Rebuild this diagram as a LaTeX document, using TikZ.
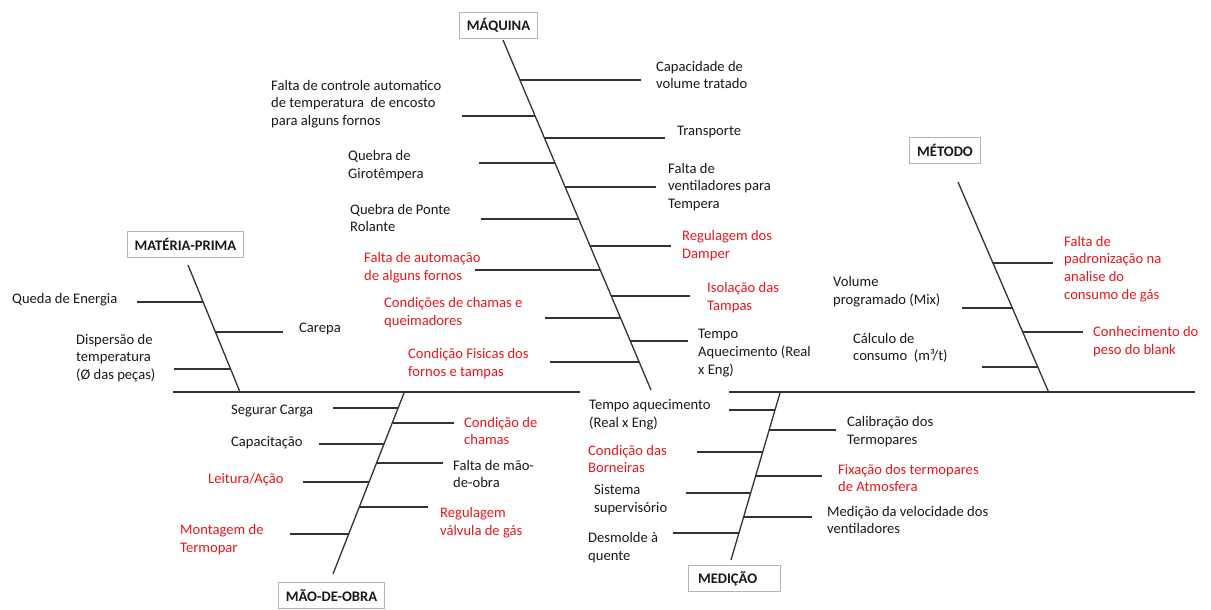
\documentclass[tikz,border=0pt]{standalone}
\usepackage{fontspec}
\setmainfont{Carlito}
\definecolor{ired}{RGB}{232,22,28}
\definecolor{iline}{RGB}{50,50,50}
\definecolor{ibox}{RGB}{180,180,180}
\definecolor{itext}{RGB}{25,25,25}
\begin{document}
\begin{tikzpicture}[x=1pt,y=-1pt,
  bone/.style={draw=iline,line width=1.3pt},
  rib/.style={draw=iline,line width=1.2pt},
  lbl/.style={anchor=west,align=left,inner sep=0pt,font=\fontsize{14.6}{17.8}\selectfont,text=itext},
  rlbl/.style={lbl,text=ired},
  hdr/.style={draw=ibox,line width=0.8pt,fill=white,inner xsep=7.5pt,minimum height=26pt,font=\fontsize{14.6}{17.8}\selectfont\bfseries,text=itext}]
\useasboundingbox (0,0) rectangle (1211,610);

% ---------- headers ----------
\node[hdr] (hMaq) at (498.5,25.5) {MÁQUINA};
\node[hdr] (hMat) at (185.5,244.5) {MATÉRIA-PRIMA};
\node[hdr] (hMet) at (945,150) {MÉTODO};
\node[hdr] (hMao) at (331.5,595.5) {MÃO-DE-OBRA};
\node[hdr,text width=72pt,align=left,inner xsep=10pt] (hMed) at (734,578.5) {MEDIÇÃO};

% ---------- spine ----------
\coordinate (s1) at (173,392);
\coordinate (s2) at (580,392);
\coordinate (s3) at (729,392);
\coordinate (s4) at (1195,392);
\draw[bone] (s1) -- (s2);
\draw[bone] (s3) -- (s4);

% ---------- MAQUINA ----------
\coordinate (qT) at (503,40);
\coordinate (qB) at (651,390);
\draw[bone] (qT) -- (qB);
\coordinate (q1a) at (520,80);  \coordinate (q1b) at (641,80);
\coordinate (q2a) at (535,116); \coordinate (q2b) at (462,116);
\coordinate (q3a) at (544,138); \coordinate (q3b) at (665,138);
\coordinate (q4a) at (555,163); \coordinate (q4b) at (479,163);
\coordinate (q5a) at (565,187); \coordinate (q5b) at (656,187);
\coordinate (q6a) at (579,219); \coordinate (q6b) at (481,219);
\coordinate (q7a) at (590,246); \coordinate (q7b) at (671,246);
\coordinate (q8a) at (600,270); \coordinate (q8b) at (475,270);
\coordinate (q9a) at (611,296); \coordinate (q9b) at (690,296);
\coordinate (q10a) at (621,318); \coordinate (q10b) at (545,318);
\coordinate (q11a) at (630,341); \coordinate (q11b) at (688,341);
\coordinate (q12a) at (639,362); \coordinate (q12b) at (550,362);
\foreach \i in {1,...,12} \draw[rib] (q\i a) -- (q\i b);

\node[lbl] (tq1) at (656,75) {Capacidade de\\volume tratado};
\node[lbl] (tq2) at (271,104) {Falta de controle automatico\\de temperatura\ \ de encosto\\para alguns fornos};
\node[lbl] (tq3) at (677,132) {Transporte};
\node[lbl] (tq4) at (348,166) {Quebra de\\Girotêmpera};
\node[lbl] (tq5) at (668,187) {Falta de\\ventiladores para\\Tempera};
\node[lbl] (tq6) at (350,218) {Quebra de Ponte\\Rolante};
\node[rlbl] (tq7) at (682,246) {Regulagem dos\\Damper};
\node[rlbl] (tq8) at (364,268) {Falta de automação\\de alguns fornos};
\node[rlbl] (tq9) at (707,298) {Isolação das\\Tampas};
\node[rlbl] (tq10) at (384,313) {Condições de chamas e\\queimadores};
\node[lbl] (tq11) at (698,353) {Tempo\\Aquecimento (Real\\x Eng)};
\node[rlbl] (tq12) at (408,364) {Condição Fisicas dos\\fornos e tampas};

% ---------- MATERIA-PRIMA ----------
\coordinate (pT) at (188,265);
\coordinate (pB) at (240,392);
\draw[bone] (pT) -- (pB);
\coordinate (p1a) at (203,302); \coordinate (p1b) at (137,302);
\coordinate (p2a) at (215,332); \coordinate (p2b) at (283,332);
\coordinate (p3a) at (231,369); \coordinate (p3b) at (174,369);
\foreach \i in {1,2,3} \draw[rib] (p\i a) -- (p\i b);
\node[lbl] (tp1) at (12,300) {Queda de Energia};
\node[lbl] (tp2) at (299,329) {Carepa};
\node[lbl] (tp3) at (76,358) {Dispersão de\\temperatura\\(Ø das peças)};

% ---------- MAO-DE-OBRA ----------
\coordinate (oT) at (404,393);
\coordinate (oB) at (333,574);
\draw[bone] (oT) -- (oB);
\coordinate (o1a) at (398,408); \coordinate (o1b) at (333,408);
\coordinate (o2a) at (393,423); \coordinate (o2b) at (454,423);
\coordinate (o3a) at (384,444); \coordinate (o3b) at (319,444);
\coordinate (o4a) at (377,463); \coordinate (o4b) at (443,463);
\coordinate (o5a) at (369,482); \coordinate (o5b) at (303,482);
\coordinate (o6a) at (359,507); \coordinate (o6b) at (428,507);
\coordinate (o7a) at (349,534); \coordinate (o7b) at (290,534);
\foreach \i in {1,...,7} \draw[rib] (o\i a) -- (o\i b);
\node[lbl] (to1) at (231,411) {Segurar Carga};
\node[rlbl] (to2) at (464,431) {Condição de\\chamas};
\node[lbl] (to3) at (231,443) {Capacitação};
\node[lbl] (to4) at (453,474) {Falta de mão-\\de-obra};
\node[rlbl] (to5) at (208,480) {Leitura/Ação};
\node[rlbl] (to6) at (440,523) {Regulagem\\válvula de gás};
\node[rlbl] (to7) at (180,540) {Montagem de\\Termopar};

% ---------- MEDICAO ----------
\coordinate (eT) at (780,393);
\coordinate (eB) at (731,560);
\draw[bone] (eT) -- (eB);
\coordinate (e1a) at (775,410); \coordinate (e1b) at (729,410);
\coordinate (e2a) at (769,430); \coordinate (e2b) at (836,430);
\coordinate (e3a) at (763,452); \coordinate (e3b) at (697,452);
\coordinate (e4a) at (756,476); \coordinate (e4b) at (822,476);
\coordinate (e5a) at (751,493); \coordinate (e5b) at (686,493);
\coordinate (e6a) at (744,517); \coordinate (e6b) at (812,517);
\coordinate (e7a) at (739,533); \coordinate (e7b) at (673,533);
\foreach \i in {1,...,7} \draw[rib] (e\i a) -- (e\i b);
\node[lbl] (te1) at (589,415) {Tempo aquecimento\\(Real x Eng)};
\node[lbl] (te2) at (847,432) {Calibração dos\\Termopares};
\node[rlbl] (te3) at (588,459) {Condição das\\Borneiras};
\node[rlbl] (te4) at (838,478) {Fixação dos termopares\\de Atmosfera};
\node[lbl] (te5) at (594,500) {Sistema\\supervisório};
\node[lbl] (te6) at (827,520) {Medição da velocidade dos\\ventiladores};
\node[lbl] (te7) at (588,548) {Desmolde à\\quente};

% ---------- METODO ----------
\coordinate (mT) at (958,182);
\coordinate (mB) at (1049,393);
\draw[bone] (mT) -- (mB);
\coordinate (m1a) at (993,263);  \coordinate (m1b) at (1053,263);
\coordinate (m2a) at (1012,308); \coordinate (m2b) at (962,308);
\coordinate (m3a) at (1023,332); \coordinate (m3b) at (1083,332);
\coordinate (m4a) at (1038,367); \coordinate (m4b) at (982,367);
\foreach \i in {1,...,4} \draw[rib] (m\i a) -- (m\i b);
\node[rlbl] (tm1) at (1064,269) {Falta de\\padronização na\\analise do\\consumo de gás};
\node[lbl] (tm2) at (833,292) {Volume\\programado (Mix)};
\node[rlbl] (tm3) at (1093,342) {Conhecimento do\\peso do blank};
\node[lbl] (tm4) at (853,348) {Cálculo de\\consumo\ \ (m³/t)};
\end{tikzpicture}
\end{document}
